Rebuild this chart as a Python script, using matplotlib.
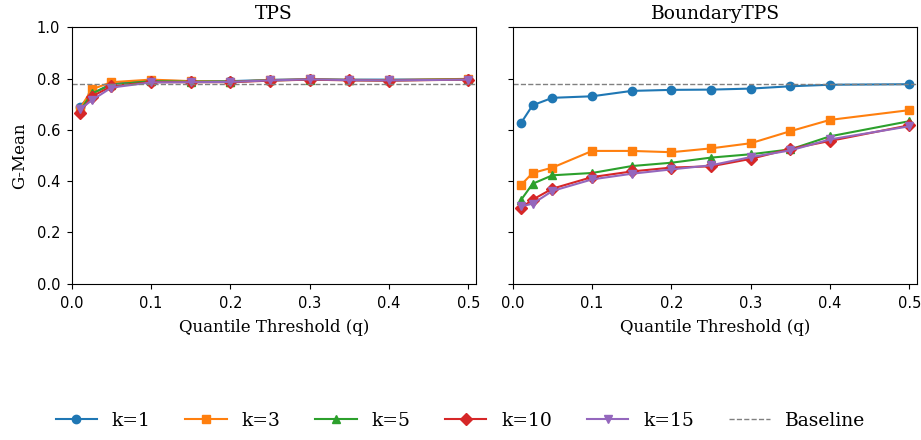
import numpy as np
import matplotlib.pyplot as plt

q = [0.01, 0.025, 0.05, 0.1, 0.15, 0.2, 0.25, 0.3, 0.35, 0.4, 0.5]
ks = ['k=1', 'k=3', 'k=5', 'k=10', 'k=15']
markers = ['o', 's', '^', 'D', 'v']
baseline = 0.78

tps = {
    'k=1': [0.690, 0.740, 0.780, 0.792, 0.790, 0.790, 0.795, 0.798, 0.796, 0.796, 0.798],
    'k=3': [0.680, 0.758, 0.786, 0.796, 0.790, 0.788, 0.794, 0.797, 0.795, 0.794, 0.799],
    'k=5': [0.672, 0.742, 0.776, 0.790, 0.788, 0.788, 0.793, 0.796, 0.794, 0.793, 0.797],
    'k=10': [0.665, 0.730, 0.770, 0.786, 0.786, 0.786, 0.792, 0.796, 0.793, 0.792, 0.796],
    'k=15': [0.680, 0.715, 0.765, 0.785, 0.786, 0.787, 0.793, 0.797, 0.794, 0.793, 0.796],
}
btps = {
    'k=1': [0.625, 0.696, 0.725, 0.731, 0.752, 0.756, 0.757, 0.761, 0.770, 0.776, 0.778],
    'k=3': [0.384, 0.432, 0.453, 0.518, 0.518, 0.513, 0.528, 0.548, 0.595, 0.639, 0.677],
    'k=5': [0.325, 0.390, 0.423, 0.432, 0.459, 0.472, 0.492, 0.505, 0.524, 0.575, 0.634],
    'k=10': [0.295, 0.328, 0.371, 0.416, 0.438, 0.453, 0.458, 0.487, 0.526, 0.557, 0.618],
    'k=15': [0.302, 0.312, 0.362, 0.407, 0.429, 0.446, 0.462, 0.494, 0.520, 0.563, 0.614],
}

serif = {'family': 'DejaVu Serif'}

fig, axes = plt.subplots(1, 2, figsize=(9.21, 4.4), dpi=100, sharey=True)
for ax, data, title in zip(axes, [tps, btps], ['TPS', 'BoundaryTPS']):
    for k, m in zip(ks, markers):
        ax.plot(q, data[k], marker=m, markersize=6, linewidth=1.5, label=k)
    ax.axhline(baseline, color='gray', linestyle='--', linewidth=1, label='Baseline')
    ax.set_title(title, fontsize=13.5, **serif)
    ax.set_xlabel('Quantile Threshold (q)', fontsize=12, labelpad=6, **serif)
    ax.set_xlim(0, 0.51)
    ax.set_ylim(0, 1.0)
    ax.set_xticks([0.0, 0.1, 0.2, 0.3, 0.4, 0.5])
    ax.tick_params(labelsize=10.5, pad=5)
axes[0].set_ylabel('G-Mean', fontsize=12, labelpad=6, **serif)

handles, labels = axes[0].get_legend_handles_labels()
fig.legend(handles, labels, loc='lower center', ncol=6, frameon=False,
           prop={'family': 'DejaVu Serif', 'size': 13.5}, bbox_to_anchor=(0.5, -0.015),
           columnspacing=1.85, handlelength=2.2)
fig.subplots_adjust(left=0.078, right=0.996, top=0.938, bottom=0.355, wspace=0.09)
fig.savefig('out.png')
